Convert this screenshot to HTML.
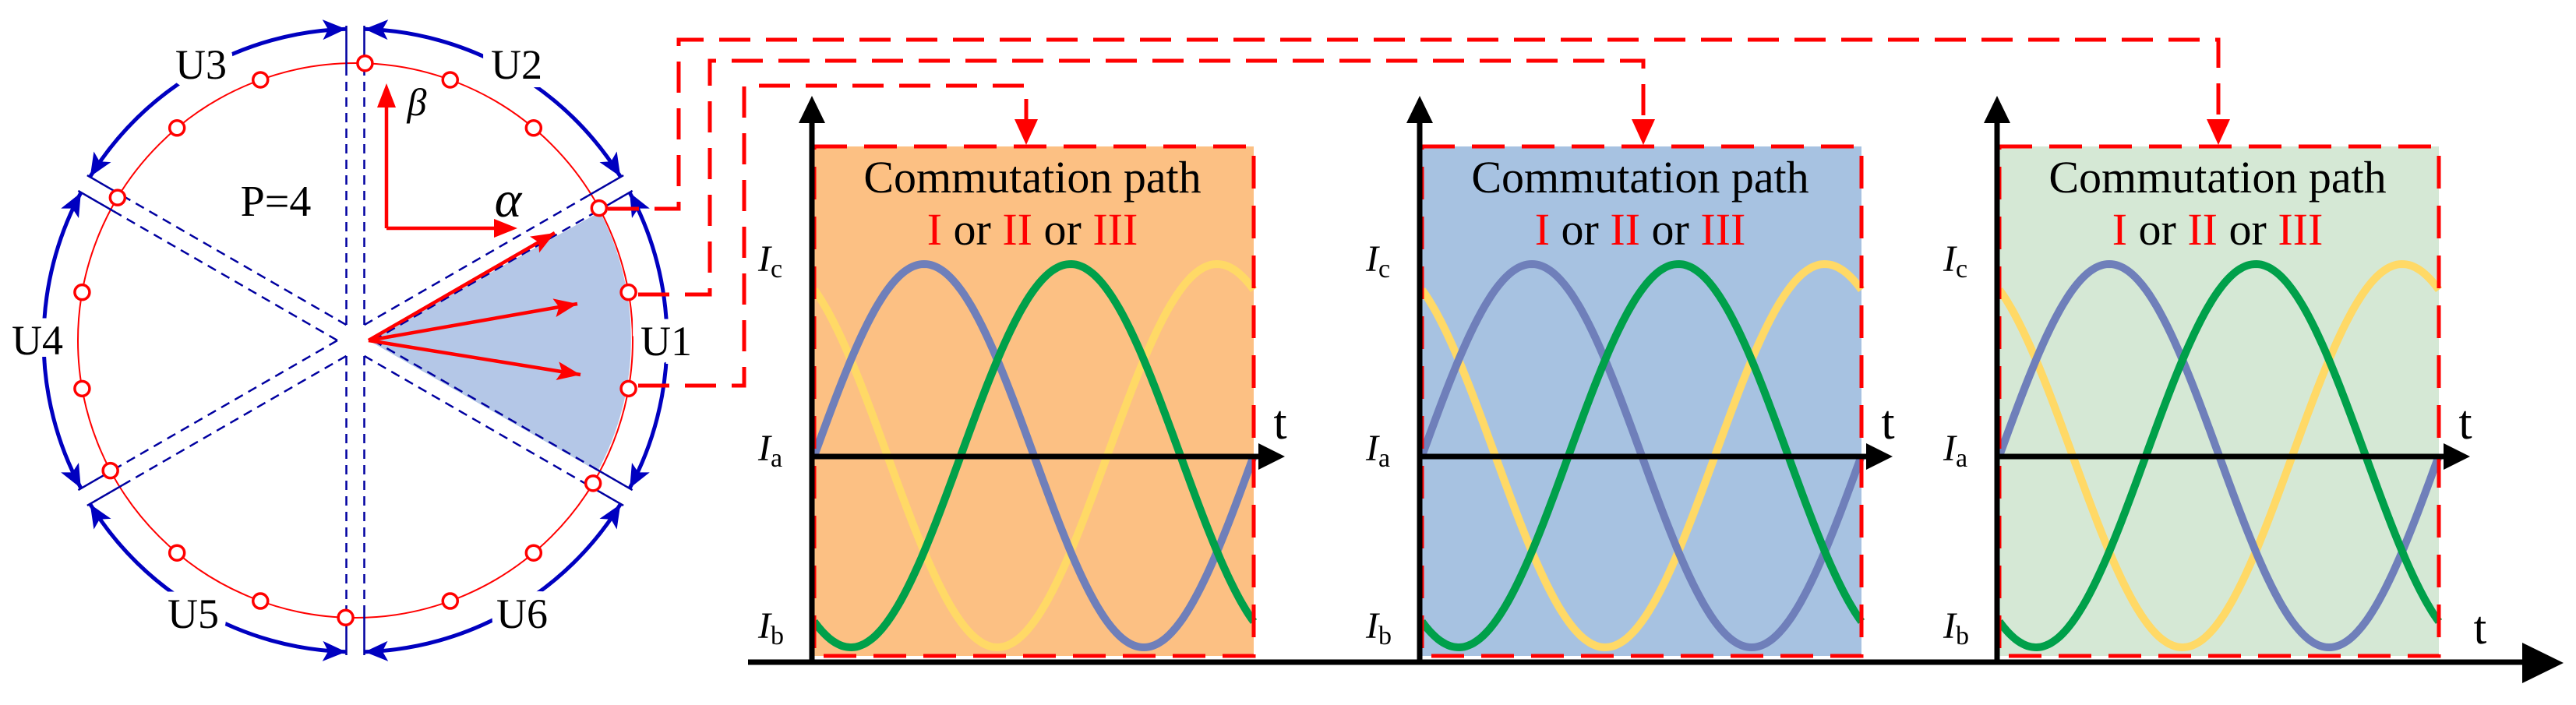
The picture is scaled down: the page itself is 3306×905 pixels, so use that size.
<!DOCTYPE html>
<html><head><meta charset="utf-8"><style>
html,body{margin:0;padding:0;background:#fff}
svg{display:block}
svg text{font-family:"Liberation Serif",Times,"DejaVu Serif",serif}
</style></head><body>
<svg id="s" width="3306" height="905" viewBox="0 0 3306 905" xmlns="http://www.w3.org/2000/svg">
<defs>
<marker id="bA" markerUnits="userSpaceOnUse" markerWidth="40" markerHeight="40" refX="30" refY="13" orient="auto-start-reverse"><path d="M0,0 L30,13 L0,26 L7,13 Z" fill="#0000c0"/></marker>
<marker id="rA" markerUnits="userSpaceOnUse" markerWidth="40" markerHeight="40" refX="30" refY="12" orient="auto"><path d="M0,0 L30,12 L0,24 L6,12 Z" fill="#f00"/></marker>
</defs>
<path d="M473,437 L770,272 A356,356 0 0 1 767,605 Z" fill="#b4c7e7"/>
<circle cx="456" cy="437" r="356" fill="none" stroke="#f00" stroke-width="2"/>
<g id="bounds" stroke="#0000a0" stroke-width="2.5" fill="none"></g>
<g stroke="#0000c0" stroke-width="5" fill="none" marker-start="url(#bA)" marker-end="url(#bA)">
<path d="M808.2,626.6 A400,400 0 0 0 808.2,247.4"/>
<path d="M796.3,226.8 A400,400 0 0 0 467.9,37.2"/>
<path d="M444.1,37.2 A400,400 0 0 0 115.7,226.8"/>
<path d="M103.8,247.4 A400,400 0 0 0 103.8,626.6"/>
<path d="M115.7,647.2 A400,400 0 0 0 444.1,836.8"/>
<path d="M467.9,836.8 A400,400 0 0 0 796.3,647.2"/>
</g>
<g font-size="54" text-anchor="middle" fill="#000" stroke="#fff" stroke-width="22" paint-order="stroke">
<text x="258" y="101">U3</text>
<text x="663" y="101">U2</text>
<text x="48" y="455">U4</text>
<text x="855" y="456">U1</text>
<text x="248" y="806">U5</text>
<text x="670" y="806">U6</text>
</g>
<g id="dots" fill="#fff" stroke="#f00" stroke-width="3.5"></g>
<path d="M496,293 L496,130" stroke="#f00" stroke-width="4.5" fill="none"/>
<path d="M484,138 L496,107 L508,138 Z" fill="#f00"/>
<path d="M496,293 L640,293" stroke="#f00" stroke-width="4.5" fill="none"/>
<path d="M634,281 L664,293 L634,305 Z" fill="#f00"/>
<text x="535" y="148" font-size="50" font-style="italic" text-anchor="middle">β</text>
<text x="652" y="278" font-size="66" font-style="italic" text-anchor="middle">α</text>
<text x="354" y="277" font-size="56" text-anchor="middle">P=4</text>
<g stroke="#f00" stroke-width="4.5" marker-end="url(#rA)">
<line x1="473" y1="437" x2="712" y2="299"/>
<line x1="473" y1="437" x2="741" y2="390"/>
<line x1="473" y1="437" x2="745" y2="481"/>
</g>
<g stroke="#f00" stroke-width="5" fill="none" stroke-dasharray="40 20">
<path d="M780,268 L871,268 L871,51 L2847,51 L2847,160"/>
<path d="M819,378 L911,378 L911,78 L2109,78 L2109,160"/>
<path d="M819,495 L955,495 L955,110 L1317,110 L1317,160"/>
</g>
<g fill="#f00">
<path d="M2832,153 L2862,153 L2847,186 Z"/>
<path d="M2094,153 L2124,153 L2109,186 Z"/>
<path d="M1302,153 L1332,153 L1317,186 Z"/>
</g>
<g id="charts"></g>
<line x1="960" y1="850" x2="3245" y2="850" stroke="#000" stroke-width="7"/>
<path d="M3237,825 L3290,851 L3237,877 Z" fill="#000"/>
<text x="3183" y="826" font-size="60" text-anchor="middle">t</text>
</svg>
<script>
var NS="http://www.w3.org/2000/svg";
function el(p,t,a,txt){var e=document.createElementNS(NS,t);for(var k in a)e.setAttribute(k,a[k]);if(txt)e.textContent=txt;p.appendChild(e);return e;}
var cx=456,cy=437;
var dg=document.getElementById('dots');
[10,28.5,50,70,88,110,130,149,170,190,208,230,250,268,290,310,329,350].forEach(function(a){var r=a*Math.PI/180;el(dg,'circle',{cx:cx+356*Math.cos(r),cy:cy-356*Math.sin(r),r:9.5});});
var bg=document.getElementById('bounds');
[90,30,150,270,210,330].forEach(function(a){var r=a*Math.PI/180,dx=Math.cos(r),dy=-Math.sin(r),px=-dy,py=dx;
[-11.5,11.5].forEach(function(o){var ox=cx+px*o,oy=cy+py*o;
el(bg,'line',{x1:ox+dx*20,y1:oy+dy*20,x2:ox+dx*352,y2:oy+dy*352,'stroke-dasharray':'12 8'});
el(bg,'line',{x1:ox+dx*352,y1:oy+dy*352,x2:ox+dx*404,y2:oy+dy*404});});});
var cg=document.getElementById('charts');
[[1045,'#fcc083'],[1825,'#a7c2e1'],[2566,'#d5e8d5']].forEach(function(c){var L=c[0];
el(cg,'rect',{x:L,y:188,width:564,height:654,fill:c[1]});
var cols=[['#ffd966',240],['#6f7fba',0],['#00a04a',120]];
cols.forEach(function(w){var pts=[];for(var i=0;i<=564;i+=3){var th=2*Math.PI*i/564-w[1]*Math.PI/180;pts.push((L+i)+','+(585-246*Math.sin(th)).toFixed(1));}
el(cg,'polyline',{points:pts.join(' '),fill:'none',stroke:w[0],'stroke-width':10});});
el(cg,'rect',{x:L,y:188,width:564,height:654,fill:'none',stroke:'#f00','stroke-width':5,'stroke-dasharray':'42 22'});
el(cg,'line',{x1:L-3,y1:850,x2:L-3,y2:150,stroke:'#000','stroke-width':7});
el(cg,'path',{d:'M'+(L-20)+',158 L'+(L-3)+',123 L'+(L+14)+',158 Z',fill:'#000'});
el(cg,'line',{x1:L-3,y1:586,x2:L+580,y2:586,stroke:'#000','stroke-width':7});
el(cg,'path',{d:'M'+(L+570)+',569 L'+(L+604)+',586 L'+(L+570)+',603 Z',fill:'#000'});
el(cg,'text',{x:L+598,y:563,'font-size':62,'text-anchor':'middle'},'t');
el(cg,'text',{x:L+280,y:247,'font-size':58,'text-anchor':'middle'},'Commutation path');
var t=el(cg,'text',{x:L+280,y:314,'font-size':58,'text-anchor':'middle'});
[['I','#f00'],[' or ','#000'],['II','#f00'],[' or ','#000'],['III','#f00']].forEach(function(s){el(t,'tspan',{fill:s[1]},s[0]);});
[['c',348],['a',591],['b',819]].forEach(function(s){var tx=el(cg,'text',{x:L-72,y:s[1],'font-size':48});
el(tx,'tspan',{'font-style':'italic'},'I');el(tx,'tspan',{'font-size':34,dy:8},s[0]);});
});
</script>
</body></html>
